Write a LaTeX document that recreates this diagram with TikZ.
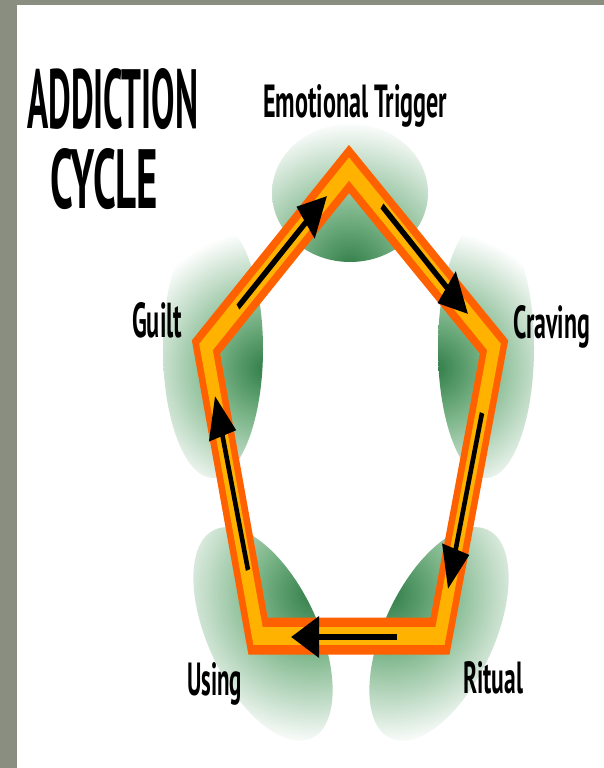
\documentclass[tikz,border=0pt]{standalone}
\usepackage{fontspec}
\setmainfont{PT Sans}
\usepackage{graphicx}
\usetikzlibrary{arrows.meta}
\definecolor{bggray}{RGB}{138,142,128}
\definecolor{bandorange}{RGB}{255,96,0}
\definecolor{bandyellow}{RGB}{255,178,0}
\definecolor{gdark}{RGB}{48,125,72}
\definecolor{gmid}{RGB}{125,182,138}
\definecolor{glight}{RGB}{255,255,255}
\pgfdeclareradialshading{blob}{\pgfpoint{0bp}{0bp}}{color(0bp)=(gdark); color(9bp)=(gmid); color(23bp)=(glight); color(50bp)=(glight)}
\tikzset{
  label/.style={anchor=base west, inner sep=0pt, font=\bfseries},
  bandout/.style={line width=25pt, draw=bandorange, line join=miter},
  bandin/.style={line width=12pt, draw=bandyellow, line join=miter},
  cyclearrow/.style={line width=4.5pt, black, -{Triangle[length=28pt, width=27pt]}}
}
\begin{document}
\begin{tikzpicture}[x=1pt,y=-1pt]
\useasboundingbox (0,0) rectangle (604,768);
\fill[bggray] (0,0) rectangle (604,768);
\fill[white] (17,5) rectangle (604,768);

% green blobs
\begin{scope}
  \clip (350,193) ellipse [x radius=78pt, y radius=69pt];
  \shade[shading=blob] (350,268) circle [radius=160pt];
\end{scope}
\begin{scope}
  \clip (213,349) ellipse [x radius=50pt, y radius=129pt];
  \shade[shading=blob] (266,368) circle [radius=150pt];
\end{scope}
\begin{scope}
  \clip (486,348) ellipse [x radius=48pt, y radius=130pt];
  \shade[shading=blob] (434,368) circle [radius=150pt];
\end{scope}
\begin{scope}
  \clip[rotate around={-65:(263,634)}] (263,634) ellipse [x radius=115pt, y radius=55pt];
  \shade[shading=blob] (314,594) circle [radius=165pt];
\end{scope}
\begin{scope}
  \clip[rotate around={65:(439,634)}] (439,634) ellipse [x radius=115pt, y radius=55pt];
  \shade[shading=blob] (388,594) circle [radius=165pt];
\end{scope}

% pentagon band and arrows (vertically stretched)
\begin{scope}[transform canvas={yscale=1.48}, y=-0.675676pt]
  \coordinate (T) at (349,169);
  \coordinate (C) at (494,347);
  \coordinate (R) at (440,636);
  \coordinate (U) at (258,636);
  \coordinate (G) at (206,347);
  \draw[bandout] (T) -- (C) -- (R) -- (U) -- (G) -- cycle;
  \draw[bandin] (T) -- (C) -- (R) -- (U) -- (G) -- cycle;
  \coordinate (a1s) at (238,307); \coordinate (a1e) at (327,196);
  \coordinate (a2s) at (382,206); \coordinate (a2e) at (468,314);
  \coordinate (a3s) at (482,413); \coordinate (a3e) at (448,589);
  \coordinate (a4s) at (397,637); \coordinate (a4e) at (291,637);
  \coordinate (a5s) at (248,570); \coordinate (a5e) at (215,396);
  \draw[cyclearrow] (a1s) -- (a1e);
  \draw[cyclearrow] (a2s) -- (a2e);
  \draw[cyclearrow] (a3s) -- (a3e);
  \draw[cyclearrow] (a4s) -- (a4e);
  \draw[cyclearrow] (a5s) -- (a5e);
\end{scope}

% texts
\node[label] (title1) at (27,128) {\resizebox{171pt}{60pt}{ADDICTION}};
\node[label] (title2) at (50,208) {\resizebox{108pt}{60pt}{CYCLE}};
\node[label] (trig) at (263,117) {\resizebox{184pt}{33pt}{Emotional Trigger}};
\node[label] (guilt) at (132,337) {\resizebox{50pt}{35pt}{Guilt}};
\node[label] (crav) at (513,338) {\resizebox{77pt}{33pt}{Craving}};
\node[label] (using) at (187,695) {\resizebox{55pt}{33pt}{Using}};
\node[label] (ritual) at (463,693) {\resizebox{60pt}{32pt}{Ritual}};
\end{tikzpicture}
\end{document}
